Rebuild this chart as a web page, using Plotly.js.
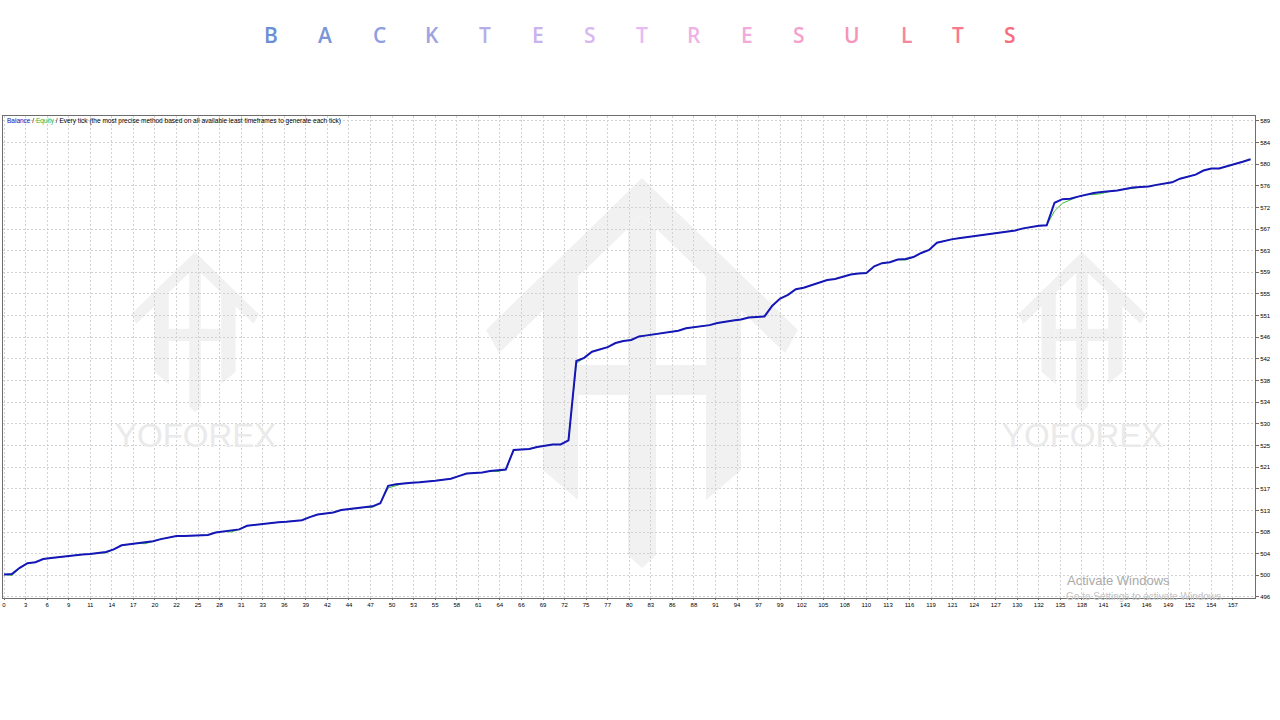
<!DOCTYPE html>
<html>
<head>
<meta charset="utf-8">
<script src="https://cdn.plot.ly/plotly-3.0.1.min.js"></script>
<style>
  html, body { margin: 0; padding: 0; background: #ffffff; }
  #chart { width: 1280px; height: 720px; }
</style>
</head>
<body>
<div id="chart"></div>
<script>
// ---------------- data ----------------
const titleLetters = ["B","A","C","K","T","E","S","T","R","E","S","U","L","T","S"];
const titleColors  = ["#6b8fd6","#7a95d8","#8e9ee0","#9ea3e0","#b7aee8","#c9b3ee","#d9b7f0","#e6baf3",
                      "#efb2e6","#f2aadb","#f3a2cc","#f594b6","#f7879f","#f77b8f","#f56e80"];

const balance = [
  500.4, 500.5, 501.7, 502.6, 502.8, 503.4, 503.6, 503.8, 504.0, 504.1,
  504.3, 504.4, 504.6, 504.8, 505.3, 506.1, 506.3, 506.5, 506.6, 506.9,
  507.3, 507.6, 507.9, 507.9, 508.0, 508.0, 508.1, 508.6, 508.8, 508.9,
  509.2, 509.9, 510.1, 510.3, 510.4, 510.6, 510.7, 510.9, 511.0, 511.6,
  512.1, 512.3, 512.5, 513.0, 513.2, 513.4, 513.5, 513.7, 514.3, 517.7,
  518.0, 518.2, 518.3, 518.4, 518.5, 518.7, 518.9, 519.1, 519.6, 520.1,
  520.2, 520.3, 520.6, 520.7, 520.9, 524.7, 524.8, 524.9, 525.3, 525.6,
  525.8, 525.8, 526.6, 542.1, 542.7, 543.9, 544.4, 544.8, 545.6, 546.0,
  546.2, 546.9, 547.1, 547.3, 547.6, 547.8, 548.0, 548.5, 548.7, 549.0,
  549.1, 549.5, 549.8, 550.0, 550.2, 550.6, 550.7, 550.8, 552.9, 554.3,
  555.0, 556.1, 556.4, 556.9, 557.4, 557.9, 558.1, 558.5, 559.0, 559.2,
  559.3, 560.6, 561.2, 561.4, 561.9, 562.0, 562.4, 563.2, 563.8, 565.2,
  565.6, 565.9, 566.1, 566.3, 566.5, 566.7, 567.0, 567.2, 567.4, 567.6,
  568.0, 568.3, 568.5, 568.6, 573.0, 573.7, 573.8, 574.2, 574.6, 574.9,
  575.1, 575.2, 575.4, 575.7, 576.0, 576.1, 576.2, 576.5, 576.8, 577.0,
  577.7, 578.1, 578.5, 579.3, 579.7, 579.7, 580.1, 580.5, 581.0, 581.5
];

const equity = [
  500.4, 500.2, 501.6, 502.6, 502.8, 503.4, 503.6, 503.8, 504.0, 504.1,
  504.3, 504.4, 504.6, 504.6, 505.3, 506.1, 506.3, 506.5, 506.4, 506.9,
  507.3, 507.6, 507.9, 507.9, 508.0, 508.0, 508.1, 508.6, 508.8, 508.7,
  509.2, 509.9, 510.1, 510.3, 510.4, 510.6, 510.7, 510.9, 511.0, 511.6,
  512.1, 512.3, 512.5, 513.0, 513.2, 513.4, 513.5, 513.5, 514.3, 517.3,
  517.8, 518.2, 518.3, 518.4, 518.5, 518.7, 518.9, 519.1, 519.6, 520.1,
  520.2, 520.3, 520.6, 520.5, 520.9, 524.7, 524.8, 524.9, 525.3, 525.6,
  525.8, 525.8, 526.6, 541.6, 542.7, 543.9, 544.4, 544.8, 545.6, 546.0,
  546.2, 546.9, 547.1, 547.3, 547.6, 547.8, 548.0, 548.5, 548.7, 549.0,
  549.1, 549.5, 549.8, 550.0, 550.2, 550.6, 550.7, 550.8, 552.9, 554.3,
  555.0, 556.1, 556.4, 556.9, 557.4, 557.9, 558.1, 558.5, 559.0, 559.2,
  559.3, 560.6, 561.2, 561.4, 561.9, 561.8, 562.4, 563.2, 563.8, 565.2,
  565.6, 565.9, 566.1, 566.3, 566.5, 566.7, 567.0, 567.2, 567.4, 567.6,
  568.0, 568.3, 568.5, 568.6, 571.4, 572.9, 573.5, 574.2, 574.6, 574.6,
  574.8, 575.2, 575.4, 575.7, 575.8, 576.1, 576.2, 576.5, 576.8, 577.0,
  577.7, 578.1, 578.5, 579.3, 579.7, 579.7, 580.1, 580.5, 581.0, 581.5
];

const xTickLabels = ["0","3","6","9","11","14","17","20","22","25","28","31","33","36","39","42","44","47","50","53",
  "55","58","61","64","66","69","72","75","77","80","83","86","88","91","94","97","99","102","105","108",
  "110","113","116","119","121","124","127","130","132","135","138","141","143","146","149","152","154","157"];
const yTickLabels = ["496","500","504","508","513","517","521","525","530","534","538","542","546","551",
  "555","559","563","567","572","576","580","584","589"];

// ---------------- layout helpers ----------------
const PL = 3, PT = 116, PW = 1252, PH = 482;           // plot area in pixels
const pX = x => (x - PL) / PW;
const pY = y => (PT + PH - y) / PH;

const trades = balance.map((_, i) => i);
const xStep = 2.75;                                    // trades per x grid step
const yStep = 4.2273;                                  // value per y grid step
const xTickVals = xTickLabels.map((_, i) => i * xStep);
const yTickVals = yTickLabels.map((_, i) => 496 + i * yStep);

// watermark logo (decoration)
const logoPolys = [
  [[486,330],[642,178],[798,330],[785,353],[642,215],[499,353]],
  [[543,310],[578,276],[578,500],[543,470]],
  [[741,310],[706,276],[706,500],[741,470]],
  [[578,365],[706,365],[706,395],[578,395]],
  [[628,229],[642,215],[656,229],[656,555],[642,568],[628,555]]
];
function logoShapes(cx, ty, s, fill) {
  return logoPolys.map(poly => {
    const pts = poly.map(([x, y]) => {
      const X = cx + (x - 642) * s, Y = ty + (y - 178) * s;
      return pX(X).toFixed(5) + "," + pY(Y).toFixed(5);
    });
    return {type: "path", xref: "paper", yref: "paper", layer: "below",
            path: "M" + pts.join(" L") + " Z", fillcolor: fill, line: {width: 0}};
  });
}
const shapes = [].concat(
  logoShapes(642, 178, 1, "#f1f1f1"),
  logoShapes(195, 252, 0.41, "#f1f1f1"),
  logoShapes(1082, 252, 0.41, "#f1f1f1")
);

const titlePx = [271,325,379,432,485,538,590,642,694,747,799,852,906,958,1010];
const annotations = titleLetters.map((ch, i) => ({
  text: ch, xref: "paper", yref: "paper", x: pX(titlePx[i]), y: pY(35),
  xanchor: "center", yanchor: "middle", showarrow: false,
  font: {family: "Open Sans, Lato, sans-serif", size: 21, color: titleColors[i], weight: 600}
}));
annotations.push({
  text: '<span style="color:#1515b8">Balance</span> / <span style="color:#2db82d">Equity</span> / Every tick (the most precise method based on all available least timeframes to generate each tick)',
  xref: "paper", yref: "paper", x: pX(5), y: pY(121), xanchor: "left", yanchor: "middle",
  showarrow: false, font: {family: "Liberation Sans, Arial, sans-serif", size: 6.5, color: "#000000"}
});
["YOFOREX", "YOFOREX"].forEach((t, i) => annotations.push({
  text: t, xref: "paper", yref: "paper", x: pX(i === 0 ? 195 : 1082), y: pY(435),
  xanchor: "center", yanchor: "middle", showarrow: false,
  font: {family: "Liberation Sans, Arial, sans-serif", size: 33, color: "#eaeaea"}
}));
annotations.push({
  text: "Activate Windows", xref: "paper", yref: "paper", x: pX(1065), y: pY(580),
  xanchor: "left", yanchor: "middle", showarrow: false,
  font: {family: "Liberation Sans, Arial, sans-serif", size: 13, color: "#a9a9a9"}
});
annotations.push({
  text: "Go to Settings to activate Windows.", xref: "paper", yref: "paper", x: pX(1064), y: pY(596),
  xanchor: "left", yanchor: "middle", showarrow: false,
  font: {family: "Liberation Sans, Arial, sans-serif", size: 10, color: "#c4c4c4"}
});

// ---------------- traces ----------------
const traces = [
  {x: trades, y: equity, type: "scatter", mode: "lines", name: "Equity",
   line: {color: "#33c033", width: 1}, hoverinfo: "skip"},
  {x: trades, y: balance, type: "scatter", mode: "lines", name: "Balance",
   line: {color: "#1515b8", width: 2}, hoverinfo: "skip"}
];

const tickFont = {family: "Liberation Sans, Arial, sans-serif", size: 6, color: "#000000"};
const layout = {
  width: 1280, height: 720,
  margin: {l: PL, r: 1280 - PL - PW, t: PT, b: 720 - PT - PH, pad: 0},
  paper_bgcolor: "#ffffff", plot_bgcolor: "#ffffff",
  showlegend: false,
  xaxis: {
    range: [-0.13, 159.57], tickmode: "array", tickvals: xTickVals, ticktext: xTickLabels,
    showgrid: true, gridcolor: "#d2d2d2", griddash: "2px,2px", gridwidth: 1,
    zeroline: false, showline: true, linecolor: "#6e6e6e", linewidth: 1, mirror: true,
    ticks: "outside", ticklen: 1, tickcolor: "#6e6e6e", tickfont: tickFont
  },
  yaxis: {
    side: "right", range: [495.8, 589.95], tickmode: "array", tickvals: yTickVals, ticktext: yTickLabels,
    showgrid: true, gridcolor: "#d2d2d2", griddash: "2px,2px", gridwidth: 1,
    zeroline: false, showline: true, linecolor: "#6e6e6e", linewidth: 1, mirror: true,
    ticks: "outside", ticklen: 3, tickcolor: "#6e6e6e", tickfont: tickFont
  },
  shapes: shapes,
  annotations: annotations
};

Plotly.newPlot("chart", traces, layout, {displayModeBar: false, staticPlot: true});
</script>
</body>
</html>
